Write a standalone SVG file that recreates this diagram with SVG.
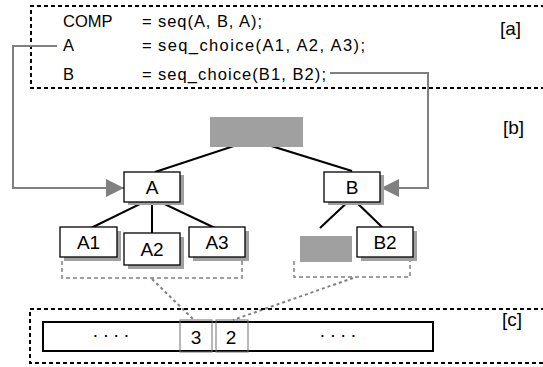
<svg xmlns="http://www.w3.org/2000/svg" width="543" height="367" viewBox="0 0 543 367">
<defs>
<style>
.frame{fill:none;stroke:#000;stroke-width:2;stroke-dasharray:4 3}
.code{font-family:"Liberation Sans",Arial,sans-serif;font-size:16.5px;fill:#000}
.tag{font-family:"Liberation Sans",Arial,sans-serif;font-size:19px;fill:#000}
.box{fill:#fff;stroke:#000;stroke-width:1.3}
.shadow{fill:#a0a0a0}
.grey{fill:#a0a0a0}
.lbl{font-family:"Liberation Sans",Arial,sans-serif;font-size:19px;text-anchor:middle;fill:#000}
.tree{stroke:#000;stroke-width:2;fill:none}
.ref{stroke:#808080;stroke-width:2;fill:none}
.brk{stroke:#808080;stroke-width:1.5;fill:none;stroke-dasharray:4 3}
.link{stroke:#808080;stroke-width:2;fill:none;stroke-dasharray:3 3}
.cell{fill:none;stroke:#707070;stroke-width:1}
</style>
<marker id="arr" markerUnits="userSpaceOnUse" markerWidth="18" markerHeight="18" viewBox="0 0 18 18" refX="18" refY="9" orient="auto">
<path d="M0,0 L18,9 L0,18 Z" fill="#808080"/>
</marker>
</defs>
<rect width="543" height="367" fill="#fff"/>
<g id="frame-a">
<path class="frame" d="M545,6 H31 V88 H545"/>
<text class="code" x="63" y="27">COMP</text>
<text class="code" x="142" y="27">=</text>
<text class="code" x="158" y="27" textLength="104" lengthAdjust="spacing">seq(A, B, A);</text>
<text class="code" x="63" y="51">A</text>
<text class="code" x="142" y="51">=</text>
<text class="code" x="158" y="51" textLength="207" lengthAdjust="spacing">seq_choice(A1, A2, A3);</text>
<text class="code" x="63" y="80">B</text>
<text class="code" x="142" y="80">=</text>
<text class="code" x="158" y="80" textLength="168" lengthAdjust="spacing">seq_choice(B1, B2);</text>
<text class="tag" x="500" y="35">[a]</text>
</g>
<text class="tag" x="503" y="134">[b]</text>
<g id="connectors">
<path class="ref" d="M57,46 H13 V188 H124" marker-end="url(#arr)"/>
<path class="ref" d="M330,73 H428 V188 H381" marker-end="url(#arr)"/>
<path class="tree" d="M155,172 L252,140 L352,171"/>
<path class="tree" d="M91,228 L152,198 L215,228 M152,198 V233"/>
<path class="tree" d="M320,228 L352,198 L383,228"/>
<path class="brk" d="M62,261 V278 H242 V261"/>
<path class="brk" d="M294,261 V277 H410 V261"/>
<path class="link" d="M152,279 L195,321"/>
<path class="link" d="M353,278 L233,320"/>
</g>
<g id="root"><rect class="grey" x="210" y="117" width="93" height="30"/></g>
<g id="node-A"><rect class="shadow" x="128" y="175" width="56" height="30"/><rect class="box" x="124" y="172" width="56" height="30"/><text class="lbl" x="152" y="194">A</text></g>
<g id="node-B"><rect class="shadow" x="328" y="175" width="56" height="30"/><rect class="box" x="324" y="172" width="56" height="30"/><text class="lbl" x="352" y="194">B</text></g>
<g id="node-A1"><rect class="shadow" x="64" y="231" width="57" height="30"/><rect class="box" x="60" y="227" width="57" height="30"/><text class="lbl" x="88.5" y="249">A1</text></g>
<g id="node-A2"><rect class="shadow" x="128" y="237" width="56" height="32"/><rect class="box" x="124" y="233" width="56" height="32"/><text class="lbl" x="152" y="256">A2</text></g>
<g id="node-A3"><rect class="shadow" x="193" y="231" width="56" height="30"/><rect class="box" x="189" y="227" width="56" height="30"/><text class="lbl" x="217" y="249">A3</text></g>
<g id="node-B1"><rect class="grey" x="300" y="236" width="52" height="26"/></g>
<g id="node-B2"><rect class="shadow" x="361" y="231" width="56" height="30"/><rect class="box" x="357" y="227" width="56" height="30"/><text class="lbl" x="385" y="249">B2</text></g>
<g id="frame-c">
<path class="frame" d="M545,309 H30 V363 H545"/>
<rect x="43" y="322" width="390" height="29" fill="#fff" stroke="#000" stroke-width="2"/>
<rect class="cell" x="180" y="320" width="32" height="32"/>
<rect class="cell" x="216" y="320" width="32" height="32"/>
<text class="lbl" x="196" y="344">3</text>
<text class="lbl" x="231" y="344">2</text>
<text class="lbl" x="113" y="341" letter-spacing="4">····</text>
<text class="lbl" x="340" y="341" letter-spacing="4">····</text>
<text class="tag" x="502" y="326">[c]</text>
</g>
</svg>
